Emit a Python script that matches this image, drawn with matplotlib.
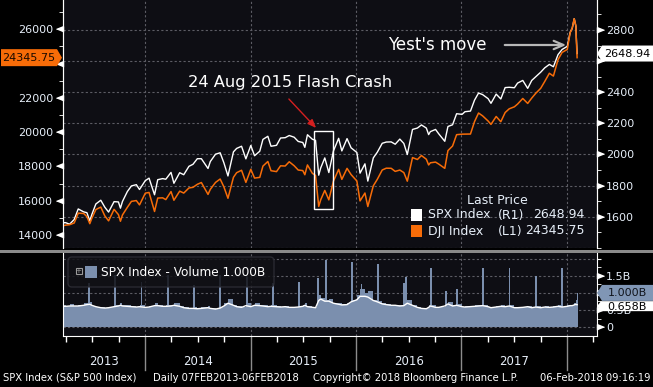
import numpy as np
import pandas as pd
import matplotlib
matplotlib.use("Agg")
import matplotlib.pyplot as plt
from matplotlib.patches import Rectangle, Polygon, FancyBboxPatch
from matplotlib.transforms import Affine2D, blended_transform_factory

W, H = 653, 387

# ---- data (roughly twice a month) ----
dates = [
    "2013-03-01", "2013-03-15", "2013-04-01", "2013-04-15", "2013-05-01", "2013-05-15",
    "2013-06-03", "2013-06-14", "2013-06-24", "2013-07-01", "2013-07-15", "2013-08-01",
    "2013-08-15", "2013-08-28", "2013-09-16", "2013-10-01", "2013-10-08", "2013-10-15",
    "2013-11-01", "2013-11-15", "2013-12-02", "2013-12-13",
    "2014-01-02", "2014-01-15", "2014-02-03", "2014-02-14", "2014-03-03", "2014-03-14",
    "2014-04-01", "2014-04-11", "2014-05-01", "2014-05-15", "2014-06-02", "2014-06-16",
    "2014-07-01", "2014-07-15", "2014-08-07", "2014-08-15", "2014-09-02", "2014-09-18",
    "2014-10-01", "2014-10-15", "2014-11-03", "2014-11-14", "2014-12-01", "2014-12-16",
    "2015-01-02", "2015-01-15", "2015-02-02", "2015-02-13", "2015-03-02", "2015-03-13",
    "2015-04-01", "2015-04-15", "2015-05-01", "2015-05-15", "2015-06-01", "2015-06-15",
    "2015-07-01", "2015-07-08", "2015-07-17", "2015-08-03", "2015-08-14", "2015-08-25",
    "2015-09-01", "2015-09-15", "2015-09-29", "2015-10-15", "2015-11-02", "2015-11-13",
    "2015-12-01", "2015-12-15",
    "2016-01-04", "2016-01-15", "2016-02-01", "2016-02-11", "2016-03-01", "2016-03-15",
    "2016-04-01", "2016-04-15", "2016-05-02", "2016-05-16", "2016-06-01", "2016-06-15",
    "2016-06-27", "2016-07-15", "2016-08-01", "2016-08-15", "2016-09-01", "2016-09-09",
    "2016-09-15", "2016-10-03", "2016-10-14", "2016-11-04", "2016-11-15", "2016-12-01",
    "2016-12-15",
    "2017-01-03", "2017-01-13", "2017-02-01", "2017-02-15", "2017-03-01", "2017-03-15",
    "2017-04-03", "2017-04-13", "2017-05-01", "2017-05-17", "2017-06-01", "2017-06-15",
    "2017-07-03", "2017-07-14", "2017-08-01", "2017-08-18", "2017-09-01", "2017-09-15",
    "2017-10-02", "2017-10-16", "2017-11-01", "2017-11-15", "2017-12-01", "2017-12-15",
    "2018-01-02", "2018-01-12", "2018-01-19", "2018-01-26", "2018-02-01", "2018-02-02",
    "2018-02-05",
]

spx = [
    1518, 1560, 1562, 1552, 1582, 1650, 1631, 1626, 1573, 1614, 1682, 1706, 1661, 1630,
    1697, 1695, 1655, 1698, 1762, 1798, 1806, 1775,
    1832, 1848, 1741, 1838, 1845, 1841, 1885, 1815, 1883, 1870, 1924, 1937, 1973, 1973,
    1910, 1955, 2002, 2011, 1946, 1862, 2017, 2039, 2053, 1972,
    2058, 1992, 2021, 2097, 2117, 2053, 2059, 2106, 2108, 2122, 2111, 2084, 2077, 2046,
    2127, 2098, 2091, 1867, 1914, 1978, 1884, 2023, 2104, 2023, 2102, 2043,
    2013, 1880, 1940, 1829, 1978, 2015, 2072, 2080, 2081, 2066, 2099, 2071, 2000, 2161,
    2170, 2190, 2170, 2128, 2147, 2161, 2133, 2085, 2180, 2191, 2262,
    2258, 2275, 2279, 2349, 2395, 2385, 2359, 2329, 2388, 2357, 2430, 2432, 2429, 2459,
    2476, 2425, 2476, 2500, 2529, 2557, 2579, 2564, 2642, 2675,
    2695, 2786, 2810, 2873, 2822, 2762, 2648.94,
]

dji = [
    14090, 14514, 14573, 14600, 14700, 15275, 15254, 15070, 14660, 14975, 15484, 15628,
    15112, 14825, 15494, 15191, 14802, 15168, 15615, 15962, 16008, 15755,
    16441, 16482, 15372, 16154, 16168, 16065, 16532, 16027, 16558, 16446, 16743, 16781,
    16956, 17060, 16368, 16662, 17067, 17265, 16804, 16142, 17366, 17634, 17776, 17068,
    17833, 17320, 17361, 18019, 18288, 17749, 17698, 18036, 18024, 18272, 18040, 17791,
    17757, 17515, 18087, 17598, 17477, 15666, 16058, 16600, 16049, 17141, 17829, 17245,
    17888, 17524,
    17149, 15988, 16449, 15660, 16865, 17251, 17792, 17897, 17891, 17710, 17789, 17640,
    17140, 18516, 18404, 18636, 18420, 18085, 18212, 18253, 18138, 17888, 18923, 19191,
    19852,
    19882, 19885, 19890, 20612, 21115, 20950, 20650, 20453, 20913, 20607, 21144, 21360,
    21479, 21638, 21963, 21675, 21988, 22268, 22557, 22957, 23435, 23271, 24232, 24651,
    24824, 25803, 26072, 26617, 26187, 25521, 24345.75,
]

# SPX volume in billions
vol = [
    0.64, 0.66, 0.62, 0.68, 0.63, 0.66, 0.70, 0.72, 0.74, 0.62, 0.60, 0.58, 0.56, 0.60,
    0.64, 0.66, 0.70, 0.64, 0.64, 0.62, 0.60, 0.64,
    0.58, 0.62, 0.72, 0.66, 0.62, 0.64, 0.66, 0.70, 0.62, 0.58, 0.56, 0.58, 0.56, 0.58,
    0.62, 0.56, 0.54, 0.60, 0.70, 0.82, 0.66, 0.62, 0.60, 0.70,
    0.62, 0.70, 0.66, 0.64, 0.62, 0.64, 0.62, 0.60, 0.62, 0.60, 0.60, 0.62, 0.66, 0.70,
    0.62, 0.60, 0.58, 0.95, 0.86, 0.78, 0.82, 0.72, 0.70, 0.68, 0.70, 0.80,
    0.95, 1.10, 1.00, 1.05, 0.80, 0.76, 0.70, 0.68, 0.66, 0.66, 0.64, 0.66, 0.78, 0.64,
    0.60, 0.56, 0.56, 0.66, 0.66, 0.60, 0.60, 0.66, 0.74, 0.64, 0.68,
    0.60, 0.62, 0.62, 0.64, 0.64, 0.66, 0.60, 0.58, 0.62, 0.64, 0.62, 0.66, 0.58, 0.60,
    0.60, 0.62, 0.58, 0.62, 0.58, 0.62, 0.60, 0.62, 0.64, 0.60,
    0.64, 0.66, 0.66, 0.70, 0.72, 0.78, 1.00,
]

vol_ma = [
    0.60, 0.61, 0.61, 0.62, 0.62, 0.62, 0.64, 0.66, 0.67, 0.64, 0.60, 0.57, 0.56, 0.57,
    0.60, 0.62, 0.64, 0.62, 0.61, 0.60, 0.59, 0.60,
    0.58, 0.59, 0.63, 0.63, 0.61, 0.61, 0.62, 0.64, 0.61, 0.57, 0.55, 0.55, 0.54, 0.55,
    0.57, 0.55, 0.53, 0.56, 0.62, 0.70, 0.64, 0.60, 0.58, 0.63,
    0.60, 0.64, 0.63, 0.62, 0.60, 0.61, 0.60, 0.59, 0.60, 0.58, 0.58, 0.59, 0.61, 0.64,
    0.60, 0.58, 0.57, 0.78, 0.82, 0.76, 0.76, 0.70, 0.67, 0.65, 0.66, 0.74,
    0.80, 0.90, 0.90, 0.88, 0.78, 0.74, 0.68, 0.66, 0.64, 0.64, 0.62, 0.63, 0.70, 0.64,
    0.58, 0.55, 0.54, 0.58, 0.62, 0.58, 0.58, 0.62, 0.68, 0.62, 0.64,
    0.60, 0.59, 0.60, 0.61, 0.62, 0.63, 0.60, 0.57, 0.59, 0.61, 0.60, 0.62, 0.57, 0.57,
    0.58, 0.60, 0.57, 0.59, 0.57, 0.59, 0.58, 0.59, 0.61, 0.59,
    0.61, 0.63, 0.63, 0.65, 0.67, 0.66, 0.658,
]

# single heavy days (quad witching etc.)
spike_dates = [
    "2013-06-21", "2013-09-20", "2013-12-20", "2014-03-21", "2014-06-20", "2014-09-19",
    "2014-12-19", "2015-03-20", "2015-06-19", "2015-08-24", "2015-09-18", "2015-12-18",
    "2016-01-20", "2016-03-18", "2016-06-17", "2016-06-24", "2016-09-16", "2016-11-09",
    "2016-12-16", "2017-03-17", "2017-06-16", "2017-09-15", "2017-12-15",
]
spike_vol = [
    1.30, 1.52, 1.33, 1.52, 1.23, 1.52, 1.47, 1.30, 1.33, 1.43, 1.95, 1.90,
    1.25, 1.84, 1.30, 1.45, 1.72, 1.05, 1.10, 1.71, 1.71, 1.50, 1.72,
]

year_labels = ["2013", "2014", "2015", "2016", "2017"]


def frac_year(ds):
    d = pd.to_datetime(pd.Series(ds))
    start = pd.to_datetime(d.dt.year.astype(str) + "-01-01")
    length = np.where(d.dt.is_leap_year, 366, 365)
    return (d.dt.year + (d - start).dt.days / length).to_numpy()


t = frac_year(dates)
ts = frac_year(spike_dates)
step = np.append(np.diff(t), 2 / 365)

BG = "#0e0e14"
TXT = "#e6eef8"
ORANGE = "#f76c08"
VOLC = "#7b8fae"
GRID = "#5c5c64"
XL = (2013.2227, 2018.2844)
DJI_LIM = (13241, 27709)
SPX_LIM = (1399, 2993)
VOL_LIM = (-0.253, 2.16)

fig = plt.figure(figsize=(W / 100, H / 100), dpi=100, facecolor="black")
# pixel coords, y measured from the top
pix = Affine2D().scale(1 / W, -1 / H).translate(0, 1) + fig.transFigure

tri_l = [(0, -0.8), (0, 0.8), (-2, 0)]
tri_r = [(0, -0.8), (0, 0.8), (2, 0)]

# ---- price panel ----
ax_l = fig.add_axes([63 / W, 1 - 248 / H, 534 / W, 248 / H])
ax_r = ax_l.twinx()
ax_r.set_zorder(ax_l.get_zorder() - 1)
ax_l.patch.set_visible(False)
ax_r.patch.set_visible(True)
ax_r.patch.set_facecolor(BG)

for yr in range(2014, 2019):
    ax_r.axvline(yr, color=GRID, lw=0.8, ls=(0, (2, 2)))
for v in range(1400, 2900, 200):
    ax_r.axhline(v, color=GRID, lw=0.8, ls=(0, (2, 2)))

ax_r.plot(t, spx, color="white", lw=1.0)
ax_l.plot(t, dji, color=ORANGE, lw=1.1)

ax_l.set_xlim(*XL)
ax_l.set_ylim(*DJI_LIM)
ax_r.set_ylim(*SPX_LIM)

# labels hidden under the last-value tags are left blank
left_ticks = list(range(14000, 27000, 2000))
ax_l.set_yticks(left_ticks)
ax_l.set_yticklabels(["" if v == 24000 else str(v) for v in left_ticks])
ax_l.set_yticks(range(14000, 28000, 1000), minor=True)
right_ticks = list(range(1600, 2900, 200))
ax_r.set_yticks(right_ticks)
ax_r.set_yticklabels(["" if v == 2600 else str(v) for v in right_ticks])
ax_r.set_yticks(range(1400, 3000, 100), minor=True)
ax_l.tick_params(axis="x", length=0, labelbottom=False)
ax_l.tick_params(axis="y", which="both", colors="white", labelcolor=TXT,
                 labelsize=8, length=3, pad=4)
ax_r.tick_params(axis="y", which="both", colors="white", labelcolor=TXT,
                 labelsize=8, length=3, pad=3.5)
for a in (ax_l, ax_r):
    a.spines["top"].set_visible(False)
    a.spines["bottom"].set_visible(False)
    a.spines["left"].set_color("white")
    a.spines["right"].set_color("white")

bl = blended_transform_factory(ax_l.transAxes, ax_l.transData)
ax_l.plot(np.zeros(len(left_ticks)), left_ticks, ls="none", marker=tri_l, ms=10,
          color="white", transform=bl, clip_on=False)
br = blended_transform_factory(ax_r.transAxes, ax_r.transData)
ax_r.plot(np.ones(len(right_ticks)), right_ticks, ls="none", marker=tri_r, ms=10,
          color="white", transform=br, clip_on=False)

# ---- volume panel ----
ax_v = fig.add_axes([63 / W, 1 - 336 / H, 534 / W, 83 / H], facecolor=BG)
ax_v.set_axisbelow(True)
for yr in range(2014, 2019):
    ax_v.axvline(yr, color=GRID, lw=0.8, ls=(0, (2, 2)), zorder=0)
for v in [0, 0.5, 1.0, 1.5, 2.0]:
    ax_v.axhline(v, color=GRID, lw=0.8, ls=(0, (2, 2)), zorder=0)
ax_v.bar(t, vol, width=step, align="edge", color=VOLC, lw=0)
ax_v.bar(ts, spike_vol, width=0.018, color=VOLC, lw=0)
ax_v.plot(t, vol_ma, color="white", lw=1.0)
ax_v.set_xlim(*XL)
ax_v.set_ylim(*VOL_LIM)

ax_v.yaxis.tick_right()
ax_v.set_yticks([0, 0.5, 1.0, 1.5, 2.0])
ax_v.set_yticklabels(["0", "0.5B", "", "1.5B", ""])
ax_v.set_yticks(np.arange(0, 2.2, 0.25), minor=True)
ax_v.tick_params(axis="y", which="both", colors="white", labelcolor=TXT,
                 labelsize=8, length=3, pad=3.5)
br_v = blended_transform_factory(ax_v.transAxes, ax_v.transData)
ax_v.plot(np.ones(4), [0, 0.5, 1.0, 1.5], ls="none", marker=tri_r, ms=10,
          color="white", transform=br_v, clip_on=False)

quarters = [y + q for y in range(2013, 2019) for q in (0.25, 0.5, 0.75)
            if XL[0] < y + q < XL[1]]
ax_v.set_xticks(range(2014, 2019))
ax_v.set_xticks(quarters, minor=True)
ax_v.tick_params(axis="x", which="major", length=0, labelbottom=False)
ax_v.tick_params(axis="x", which="minor", length=4, colors="white", width=1)
ax_v.spines["top"].set_visible(False)
for s in ("left", "right", "bottom"):
    ax_v.spines[s].set_color("white")

xt = ax_v.get_xaxis_transform()
for yr in range(2014, 2019):
    ax_v.plot([yr, yr], [0, -0.41], color="#8c8c8c", lw=1, transform=xt, clip_on=False)
for i, lab in enumerate(year_labels):
    y0 = 2013 + i
    c = (max(y0, XL[0]) + y0 + 1) / 2
    ax_v.text(c, -0.31, lab, transform=xt, ha="center", va="center",
              color=TXT, fontsize=8.5)

# separator band between panels
fig.add_artist(Rectangle((0, 249.5), W, 3, transform=pix, color="#8a8a8a", lw=0))

# volume legend box
fig.add_artist(FancyBboxPatch((68, 257), 206, 30, boxstyle="round,pad=0,rounding_size=4",
                              transform=pix, facecolor="#111116", edgecolor="#2e2e36",
                              alpha=0.85, lw=1))
fig.add_artist(Rectangle((75.5, 268), 6, 6, transform=pix, facecolor="none",
                         edgecolor="#9a9a9a", lw=0.8))
fig.text(78.5, 271.3, "+", transform=pix, ha="center", va="center", color="#9a9a9a",
         fontsize=5)
fig.add_artist(Rectangle((85, 266), 12, 12, transform=pix, color=VOLC, lw=0))
fig.text(101, 273, "SPX Index - Volume 1.000B", transform=pix, ha="left", va="center",
         color="white", fontsize=8.7)


# value tags on the axes
def tag(x0, x1, tip, yc, h, face, text, tcolor, fs=8):
    if tip < x0:
        pts = [(tip, yc), (x0, yc - h / 2), (x1, yc - h / 2), (x1, yc + h / 2), (x0, yc + h / 2)]
    else:
        pts = [(x0, yc - h / 2), (x1, yc - h / 2), (tip, yc), (x1, yc + h / 2), (x0, yc + h / 2)]
    fig.add_artist(Polygon(pts, closed=True, transform=pix, facecolor=face, lw=0))
    fig.text((x0 + x1) / 2, yc + 0.5, text, transform=pix, ha="center", va="center",
             color=tcolor, fontsize=fs)


def main_y(v, lim):
    return 248 * (1 - (v - lim[0]) / (lim[1] - lim[0]))


def vol_y(v):
    return 253 + 83 * (1 - (v - VOL_LIM[0]) / (VOL_LIM[1] - VOL_LIM[0]))


tag(1, 57, 62, main_y(dji[-1], DJI_LIM), 17, ORANGE, f"{dji[-1]:.2f}", "#1a0a00")
tag(602, 653, 597, main_y(spx[-1], SPX_LIM), 16, "white", f"{spx[-1]:.2f}", "black")
tag(602, 653, 597, vol_y(vol[-1]), 16, "#8096b5", f"{vol[-1]:.3f}B", "#10141c")
tag(601, 653, 597, vol_y(vol_ma[-1]) + 1.5, 10, "white", f"{vol_ma[-1]:.3f}B", "black")

# price legend
fig.text(497, 200, "Last Price", transform=pix, ha="center", va="center", color=TXT, fontsize=9)
fig.add_artist(Rectangle((411, 209), 11, 12, transform=pix, color="white", lw=0))
fig.add_artist(Rectangle((411, 225), 11, 12, transform=pix, color=ORANGE, lw=0))
for yy, name, ax_tag, val in [(215, "SPX Index", "(R1)", f"{spx[-1]:.2f}"),
                              (231, "DJI Index", "(L1)", f"{dji[-1]:.2f}")]:
    fig.text(428, yy, name, transform=pix, ha="left", va="center", color=TXT, fontsize=9)
    fig.text(498, yy, ax_tag, transform=pix, ha="left", va="center", color=TXT, fontsize=9)
    fig.text(585, yy, val, transform=pix, ha="right", va="center", color=TXT, fontsize=9)

# annotations
fig.text(290, 83, "24 Aug 2015 Flash Crash", transform=pix, ha="center", va="center",
         color="white", fontsize=11.7)
fig.add_artist(Rectangle((314, 131), 19, 78, transform=pix, facecolor="none",
                         edgecolor="white", lw=1))
ax_l.annotate("", xy=(318, 130), xytext=(287, 97), xycoords=pix, textcoords=pix,
              arrowprops=dict(arrowstyle="-|>,head_length=0.5,head_width=0.2",
                              color="#d42020", lw=1))
fig.text(388, 45, "Yest's move", transform=pix, ha="left", va="center",
         color="white", fontsize=12)
ax_l.annotate("", xy=(569, 45), xytext=(502, 45), xycoords=pix, textcoords=pix,
              arrowprops=dict(arrowstyle="->,head_length=0.7,head_width=0.3",
                              color="#b8b8b8", lw=1.6))

# footer
fs_foot = 7.2
fig.text(3, 378, "SPX Index (S&P 500 Index)", transform=pix, ha="left", va="center",
         color="white", fontsize=fs_foot)
fig.text(153, 378, "Daily 07FEB2013-06FEB2018", transform=pix, ha="left", va="center",
         color="white", fontsize=fs_foot)
fig.text(313, 378, "Copyright\u00a9 2018 Bloomberg Finance L.P.", transform=pix, ha="left",
         va="center", color="white", fontsize=fs_foot)
fig.text(650, 378, "06-Feb-2018 09:16:19", transform=pix, ha="right", va="center",
         color="white", fontsize=fs_foot)

fig.savefig("out.png", dpi=100, facecolor="black")
